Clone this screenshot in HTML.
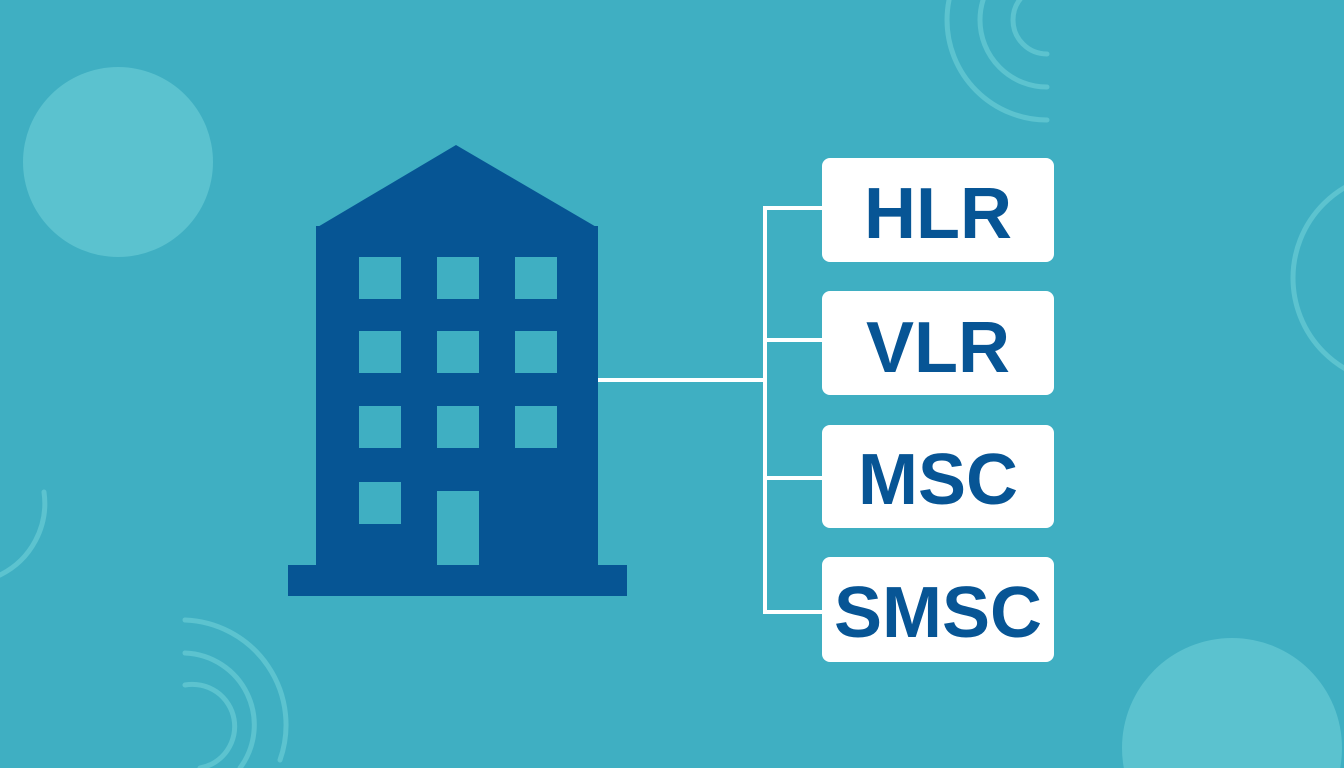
<!DOCTYPE html>
<html><head><meta charset="utf-8"><style>
html,body{margin:0;padding:0;width:1344px;height:768px;overflow:hidden;background:#3fafc2}
svg{display:block}
</style></head><body>
<svg width="1344" height="768" viewBox="0 0 1344 768" xmlns="http://www.w3.org/2000/svg">
<rect width="1344" height="768" fill="#3fafc2"/>
<circle cx="118" cy="162" r="95" fill="#5bc2cf"/>
<circle cx="1232" cy="748" r="110" fill="#5bc2cf"/>
<g fill="none" stroke="#5cc3cf" stroke-width="5" stroke-linecap="round">
<path d="M1047 -14 A34 34 0 0 0 1047 54"/>
<path d="M1047 -47 A67 67 0 0 0 1047 87"/>
<path d="M1047 -80 A100 100 0 0 0 1047 120"/>
<path d="M185 620 A105 105 0 0 1 280 760"/>
<path d="M185 653 A72 72 0 0 1 240 768"/>
<path d="M185 685 A40 40 0 0 1 200 768"/>
<path d="M44 492 A80 80 0 0 1 0 575"/>
<circle cx="1398" cy="278" r="105"/>
</g>
<g fill="#065594">
<polygon points="456,145 598,228 316,228"/>
<rect x="316" y="226" width="282" height="340"/>
<rect x="288" y="565" width="339" height="31"/>
</g>
<g fill="#3fafc2">
<rect x="359" y="257" width="42" height="42"/><rect x="437" y="257" width="42" height="42"/><rect x="515" y="257" width="42" height="42"/>
<rect x="359" y="331" width="42" height="42"/><rect x="437" y="331" width="42" height="42"/><rect x="515" y="331" width="42" height="42"/>
<rect x="359" y="406" width="42" height="42"/><rect x="437" y="406" width="42" height="42"/><rect x="515" y="406" width="42" height="42"/>
<rect x="359" y="482" width="42" height="42"/>
<rect x="437" y="491" width="42" height="74"/>
</g>
<g stroke="#ffffff" stroke-width="4" fill="none">
<path d="M598 380 H765 M765 206 V614 M763 208 H824 M763 340 H824 M763 478 H824 M763 612 H824"/>
</g>
<g fill="#ffffff">
<rect x="822" y="158" width="232" height="104" rx="8"/>
<rect x="822" y="291" width="232" height="104" rx="8"/>
<rect x="822" y="425" width="232" height="103" rx="8"/>
<rect x="822" y="557" width="232" height="105" rx="8"/>
</g>
<g fill="#075595" font-family="Liberation Sans, sans-serif" font-weight="bold" font-size="72" text-anchor="middle">
<text x="938" y="238">HLR</text>
<text x="938" y="372">VLR</text>
<text x="938" y="504">MSC</text>
<text x="938" y="637">SMSC</text>
</g>
</svg>
</body></html>
